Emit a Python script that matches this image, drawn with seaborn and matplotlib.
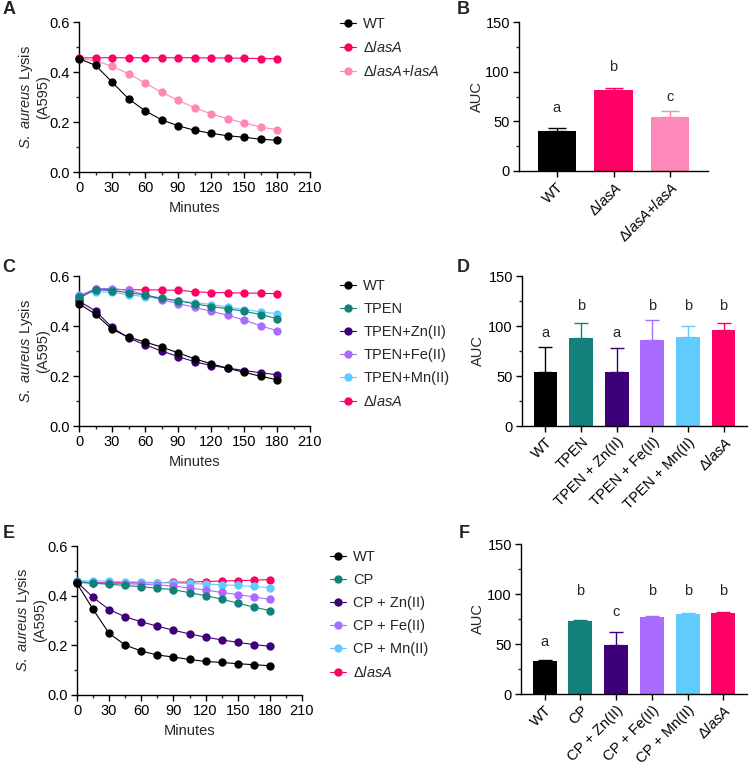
import matplotlib
matplotlib.use('Agg')
import matplotlib.pyplot as plt
import seaborn as sns
import pandas as pd
from matplotlib.ticker import MultipleLocator

# time points (minutes)
minutes = [0, 15, 30, 45, 60, 75, 90, 105, 120, 135, 150, 165, 180]

# Panel A - lysis curves
a_labels = ['WT', r'$\mathit{Δ lasA}$', r'$\mathit{Δ lasA}$+$\mathit{lasA}$']
a_wt = [0.453, 0.427, 0.360, 0.293, 0.245, 0.209, 0.185, 0.167, 0.155, 0.145, 0.139, 0.131, 0.127]
a_lasA = [0.456, 0.457, 0.457, 0.457, 0.457, 0.457, 0.457, 0.457, 0.456, 0.456, 0.455, 0.454, 0.453]
a_comp = [0.453, 0.445, 0.423, 0.393, 0.356, 0.319, 0.287, 0.257, 0.233, 0.213, 0.196, 0.180, 0.169]

# Panel B - AUC
b_labels = ['WT', r'$\mathit{Δ lasA}$', r'$\mathit{Δ lasA}$+$\mathit{lasA}$']
b_mean = [40.7, 81.7, 54.2]
b_err = [2.7, 1.7, 6.0]
b_letters = ['a', 'b', 'c']
b_letter_y = [63, 105, 74]

# Panel C - TPEN lysis curves
c_labels = ['WT', 'TPEN', 'TPEN+Zn(II)', 'TPEN+Fe(II)', 'TPEN+Mn(II)', r'$\mathit{Δ lasA}$']
c_wt = [0.489, 0.447, 0.387, 0.356, 0.336, 0.316, 0.293, 0.269, 0.249, 0.231, 0.215, 0.199, 0.185]
c_tpen = [0.515, 0.545, 0.542, 0.533, 0.524, 0.511, 0.501, 0.489, 0.478, 0.469, 0.459, 0.446, 0.430]
c_zn = [0.500, 0.460, 0.395, 0.352, 0.325, 0.300, 0.278, 0.257, 0.242, 0.232, 0.222, 0.213, 0.205]
c_fe = [0.520, 0.550, 0.550, 0.543, 0.525, 0.505, 0.490, 0.475, 0.459, 0.443, 0.424, 0.401, 0.381]
c_mn = [0.525, 0.537, 0.535, 0.525, 0.517, 0.508, 0.501, 0.494, 0.486, 0.476, 0.466, 0.457, 0.449]
c_lasA = [0.510, 0.548, 0.546, 0.545, 0.545, 0.544, 0.543, 0.537, 0.534, 0.533, 0.532, 0.531, 0.529]

# Panel D - AUC
d_labels = ['WT', 'TPEN', 'TPEN + Zn(II)', 'TPEN + Fe(II)', 'TPEN + Mn(II)', r'$\mathit{Δ lasA}$']
d_mean = [54.0, 88.3, 54.0, 86.3, 89.3, 96.3]
d_err = [25.0, 15.0, 24.0, 20.0, 11.0, 7.0]
d_letters = ['a', 'b', 'a', 'b', 'b', 'b']
d_letter_y = [93, 120, 93, 120, 120, 120]

# Panel E - calprotectin lysis curves
e_labels = ['WT', 'CP', 'CP + Zn(II)', 'CP + Fe(II)', 'CP + Mn(II)', r'$\mathit{Δ lasA}$']
e_wt = [0.449, 0.345, 0.248, 0.201, 0.177, 0.161, 0.153, 0.143, 0.135, 0.131, 0.126, 0.122, 0.118]
e_cp = [0.455, 0.450, 0.446, 0.441, 0.436, 0.430, 0.424, 0.412, 0.400, 0.386, 0.370, 0.354, 0.340]
e_zn = [0.455, 0.393, 0.344, 0.315, 0.295, 0.277, 0.261, 0.246, 0.233, 0.222, 0.212, 0.203, 0.196]
e_fe = [0.457, 0.452, 0.450, 0.448, 0.446, 0.443, 0.439, 0.431, 0.423, 0.413, 0.404, 0.395, 0.385]
e_mn = [0.459, 0.460, 0.458, 0.456, 0.455, 0.453, 0.451, 0.449, 0.447, 0.444, 0.441, 0.437, 0.432]
e_lasA = [0.453, 0.452, 0.452, 0.452, 0.452, 0.452, 0.454, 0.455, 0.457, 0.459, 0.461, 0.462, 0.465]

# Panel F - AUC
f_labels = ['WT', 'CP', 'CP + Zn(II)', 'CP + Fe(II)', 'CP + Mn(II)', r'$\mathit{Δ lasA}$']
f_mean = [32.7, 73.3, 49.3, 77.0, 80.3, 81.0]
f_err = [1.0, 0.5, 12.7, 1.0, 1.0, 0.8]
f_letters = ['a', 'b', 'c', 'b', 'b', 'b']
f_letter_y = [52, 103, 82, 103, 103, 103]

BLACK = '#000000'
PINK = '#FF0066'
LIGHT_PINK = '#FF88BB'
TEAL = '#12807B'
INDIGO = '#3D0078'
LAVENDER = '#AA6BFF'
SKY = '#5FCBFF'

sns.set_theme(style='ticks')
plt.rcParams['font.family'] = ['Liberation Sans', 'DejaVu Sans']
plt.rcParams['mathtext.fontset'] = 'custom'
plt.rcParams['mathtext.rm'] = 'Liberation Sans'
plt.rcParams['mathtext.it'] = 'Liberation Sans:italic'
plt.rcParams['mathtext.bf'] = 'Liberation Sans:bold'
plt.rcParams['axes.linewidth'] = 1.0
plt.rcParams['axes.edgecolor'] = 'black'

W, H = 750, 764
FS = 10.5
fig = plt.figure(figsize=(W / 100, H / 100), dpi=100)


def px_axes(left, top, right, bottom):
    # axes from pixel box of the reference image
    return fig.add_axes([left / W, 1 - bottom / H, (right - left) / W, (bottom - top) / H])


def style_axes(ax):
    sns.despine(ax=ax)
    ax.tick_params(which='major', direction='out', length=4.5, width=1.0,
                   labelsize=FS, pad=2, colors='black')
    ax.tick_params(which='minor', direction='out', length=2.5, width=1.0)


def line_panel(ax, series, labels, colors, legend_left, legend_top):
    n = len(series)
    for i, (y, lab, col) in enumerate(zip(series, labels, colors)):
        sns.lineplot(x=minutes, y=y, ax=ax, color=col, marker='o', markersize=6,
                     markeredgewidth=0, linewidth=0.8, label=lab,
                     zorder=10 + n - i, clip_on=False)
    ax.set_xlim(0, 210)
    ax.set_ylim(0, 0.6)
    ax.xaxis.set_major_locator(MultipleLocator(30))
    ax.xaxis.set_minor_locator(MultipleLocator(15))
    ax.yaxis.set_major_locator(MultipleLocator(0.2))
    ax.yaxis.set_minor_locator(MultipleLocator(0.1))
    ax.yaxis.set_major_formatter(plt.FuncFormatter(lambda v, p: f'{v:.1f}'))
    ax.set_xlabel('Minutes', fontsize=FS, labelpad=4.5)
    ax.set_ylabel(r'$\mathit{S.\ aureus}$ Lysis' + '\n(A595)', fontsize=FS, linespacing=1.1)
    style_axes(ax)
    h, l = ax.get_legend_handles_labels()
    ax.legend(h, l, loc='upper left', bbox_to_anchor=(legend_left / W, 1 - legend_top / H),
              bbox_transform=fig.transFigure, frameon=False, fontsize=FS,
              handlelength=1.1, handletextpad=0.5, labelspacing=0.62,
              borderaxespad=0, borderpad=0)


def bar_panel(ax, labels, means, errs, colors, letters, letter_y, capsize):
    df = pd.DataFrame({'group': labels, 'AUC': means})
    sns.barplot(data=df, x='group', y='AUC', hue='group', palette=colors,
                legend=False, ax=ax, width=0.67, linewidth=0, saturation=1)
    for i, (m, e, col) in enumerate(zip(means, errs, colors)):
        ax.errorbar(i, m, yerr=[[0], [e]], fmt='none', ecolor=col,
                    elinewidth=1.0, capsize=capsize, capthick=1.0, zorder=5)
    for i, (t, y) in enumerate(zip(letters, letter_y)):
        ax.text(i, y, t, ha='center', va='center', fontsize=FS)
    n = len(labels)
    ax.set_xlim(-0.66, n - 1 + 0.66)
    ax.set_ylim(0, 150)
    ax.yaxis.set_major_locator(MultipleLocator(50))
    ax.yaxis.set_minor_locator(MultipleLocator(25))
    ax.set_xlabel('')
    ax.set_ylabel('AUC', fontsize=FS)
    style_axes(ax)
    ax.set_xticks(range(n))
    ax.set_xticklabels(labels, rotation=45, ha='right', rotation_mode='anchor', fontsize=FS)


def ylabel_at(ax, right_px, ax_left, ax_width):
    ax.yaxis.set_label_coords((right_px - ax_left) / ax_width, 0.5)


# A
axA = px_axes(79, 22, 310, 172)
line_panel(axA, [a_wt, a_lasA, a_comp], a_labels, [BLACK, PINK, LIGHT_PINK], 340, 17)
ylabel_at(axA, 50, 79, 231)

# B
axB = px_axes(519, 22, 708, 171)
bar_panel(axB, b_labels, b_mean, b_err, [BLACK, PINK, LIGHT_PINK], b_letters, b_letter_y, 6.5)
ylabel_at(axB, 484, 519, 189)

# C
axC = px_axes(79, 276, 310, 426)
line_panel(axC, [c_wt, c_tpen, c_zn, c_fe, c_mn, c_lasA], c_labels,
           [BLACK, TEAL, INDIGO, LAVENDER, SKY, PINK], 340, 279)
ylabel_at(axC, 50, 79, 231)

# D
axD = px_axes(522, 276, 747, 426)
bar_panel(axD, d_labels, d_mean, d_err, [BLACK, TEAL, INDIGO, LAVENDER, SKY, PINK],
          d_letters, d_letter_y, 5)
ylabel_at(axD, 485, 522, 225)

# E
axE = px_axes(77, 546, 302, 695)
line_panel(axE, [e_wt, e_cp, e_zn, e_fe, e_mn, e_lasA], e_labels,
           [BLACK, TEAL, INDIGO, LAVENDER, SKY, PINK], 330, 550)
ylabel_at(axE, 47, 77, 225)

# F
axF = px_axes(521, 544, 747, 694)
bar_panel(axF, f_labels, f_mean, f_err, [BLACK, TEAL, INDIGO, LAVENDER, SKY, PINK],
          f_letters, f_letter_y, 5)
ylabel_at(axF, 485, 521, 226)

# panel letters
for lab, x, y in [('A', 9, 10), ('B', 463, 10), ('C', 9, 268), ('D', 463, 268),
                  ('E', 9, 533), ('F', 464, 533)]:
    fig.text(x / W, 1 - y / H, lab, fontsize=13, fontweight='bold', ha='center', va='center')

fig.savefig('out.png', dpi=100)
